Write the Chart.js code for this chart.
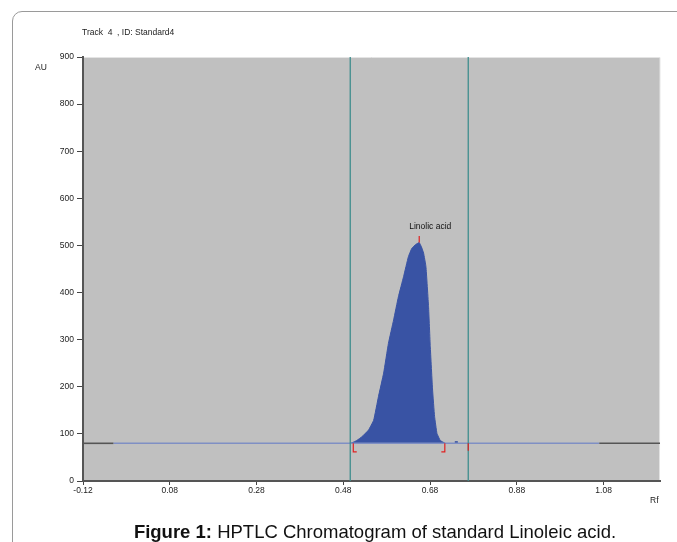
<!DOCTYPE html>
<html>
<head>
<meta charset="utf-8">
<script src="https://cdn.jsdelivr.net/npm/chart.js@4.4.0/dist/chart.umd.min.js"></script>
<style>
  body { margin: 0; background: #fff; }
  #wrap { position: relative; width: 677px; height: 542px; overflow: hidden; }
  #frame { position: absolute; left: 12px; top: 11px; width: 700px; height: 600px;
           border: 1.5px solid #9a9a9a; border-radius: 10px; }
  .lbl { position: absolute; font-family: Arial, "Liberation Sans", sans-serif; font-size: 8.5px; color: #222; }
  #caption { position: absolute; left: 0; width: 750px; top: 521px; text-align: center;
             font-family: Arial, "Liberation Sans", sans-serif; font-size: 18.5px; color: #111; }
  canvas { position: absolute; left: 0; top: 0; }
</style>
</head>
<body>
<div id="wrap">
  <div id="frame"></div>
  <canvas id="hptlc"></canvas>
  <div class="lbl" style="left:82px;top:27px;">Track &nbsp;4 &nbsp;, ID: Standard4</div>
  <div class="lbl" style="left:35px;top:62px;">AU</div>
  <div class="lbl" style="left:650px;top:495px;">Rf</div>
  <div id="caption"><b>Figure 1:</b> HPTLC Chromatogram of standard Linoleic acid.</div>
</div>
<script>
// tick positions on the Rf axis
var xTicks = [-0.12, 0.08, 0.28, 0.48, 0.68, 0.88, 1.08];

// baseline level (AU)
var baseAU = 80;

// peak profile
var peakRf = [0.495, 0.500, 0.511, 0.523, 0.538, 0.550, 0.561, 0.573, 0.584, 0.596, 0.607, 0.619,
    0.630, 0.638, 0.647, 0.655, 0.660, 0.665, 0.6705, 0.6765, 0.6805, 0.6858, 0.6904, 0.6959,
    0.7035, 0.715];
var peakAU = [80, 81, 86, 94, 108, 129, 179, 229, 292, 342, 391, 434,
    476, 494, 502, 506, 497, 484, 455, 370, 285, 193, 137, 101,
    86, 80];

// integration window (teal lines) and peak markers
var windowRf = [0.496, 0.768];
var peakStartRf = 0.503;
var peakEndRf = 0.714;
var peakTopRf = 0.655;
var peakTopAU = 506;
var peakName = 'Linolic acid';

// baseline segments: scan ends are dark, scanned part blue
var scanRf = [-0.05, 1.07];

var peakPoints = peakRf.map(function (r, i) { return { x: r, y: peakAU[i] }; });

function vline(rf, y0, y1) { return [{ x: rf, y: y0 }, { x: rf, y: y1 }]; }

var bgPlugin = {
    id: 'plotBg',
    beforeDraw: function (chart) {
        var a = chart.chartArea, c = chart.ctx;
        c.save();
        c.fillStyle = '#c0c0c0';
        c.fillRect(a.left, a.top, a.right - a.left, a.bottom - a.top);
        c.strokeStyle = '#e4e4e4';
        c.lineWidth = 1;
        c.beginPath();
        c.moveTo(a.left, a.top + 0.5);
        c.lineTo(a.right, a.top + 0.5);
        c.lineTo(a.right - 0.5, a.bottom);
        c.stroke();
        c.restore();
    },
    afterDatasetsDraw: function (chart) {
        var c = chart.ctx;
        var px = chart.scales.x.getPixelForValue(peakTopRf);
        var py = chart.scales.y.getPixelForValue(peakTopAU);
        c.save();
        c.font = '8.5px Arial, "Liberation Sans", sans-serif';
        c.fillStyle = '#111';
        c.textAlign = 'center';
        c.textBaseline = 'bottom';
        c.fillText(peakName, px + 11, py - 12);
        c.restore();
    }
};

var line = function (data, color, width, order) {
    return { data: data, borderColor: color, borderWidth: width, pointRadius: 0, fill: false, order: order };
};

var config = {
    type: 'line',
    data: {
        datasets: [
            line(vline(windowRf[0], 0, 900), '#3e8d8d', 1.3, 1),
            line(vline(windowRf[1], 0, 900), '#3e8d8d', 1.3, 1),
            line([{ x: -0.12, y: baseAU }, { x: scanRf[0], y: baseAU }], '#555555', 1.6, 3),
            line([{ x: scanRf[1], y: baseAU }, { x: 1.21, y: baseAU }], '#555555', 1.6, 3),
            line([{ x: scanRf[0], y: baseAU }, { x: scanRf[1], y: baseAU }], '#7f8fc4', 1.6, 3),
            {
                data: peakPoints,
                borderColor: '#3953a4',
                backgroundColor: '#3953a4',
                borderWidth: 1,
                pointRadius: 0,
                fill: { value: baseAU },
                tension: 0.1,
                order: 4
            },
            line([{ x: 0.737, y: 83 }, { x: 0.744, y: 83 }], '#3953a4', 1.5, 2),
            line([{ x: peakStartRf, y: baseAU }, { x: peakStartRf, y: 62 }, { x: peakStartRf + 0.008, y: 62 }], '#e02020', 1.2, 0),
            line([{ x: peakEndRf, y: baseAU }, { x: peakEndRf, y: 62 }, { x: peakEndRf - 0.008, y: 62 }], '#e02020', 1.2, 0),
            line(vline(windowRf[1], baseAU, 64), '#e02020', 1.2, 0),
            line(vline(peakTopRf, peakTopAU, peakTopAU + 14), '#e02020', 1.2, 0)
        ]
    },
    options: {
        responsive: true,
        maintainAspectRatio: false,
        animation: false,
        layout: { padding: { left: 0, top: 57, right: 17, bottom: 0 } },
        plugins: { legend: { display: false }, tooltip: { enabled: false } },
        scales: {
            x: {
                type: 'linear',
                min: -0.12,
                max: 1.21,
                afterBuildTicks: function (scale) {
                    scale.ticks = xTicks.map(function (v) { return { value: v }; });
                },
                afterFit: function (scale) { scale.height = 61; },
                ticks: {
                    autoSkip: false,
                    maxRotation: 0,
                    padding: 1,
                    color: '#222',
                    font: { family: 'Arial, "Liberation Sans", sans-serif', size: 8.5 },
                    callback: function (v) { return v.toFixed(2); }
                },
                grid: { drawOnChartArea: false, tickLength: 4, color: '#444' },
                border: { color: '#555', width: 2 }
            },
            y: {
                min: 0,
                max: 900,
                afterFit: function (scale) { scale.width = 83; },
                ticks: {
                    stepSize: 100,
                    padding: 3,
                    color: '#222',
                    font: { family: 'Arial, "Liberation Sans", sans-serif', size: 8.5 }
                },
                grid: { drawOnChartArea: false, tickLength: 6, color: '#444' },
                border: { color: '#555', width: 2 }
            }
        }
    },
    plugins: [bgPlugin]
};

var cv = document.getElementById('hptlc');
cv.style.width = '677px';
cv.style.height = '542px';
window.hptlcChart = new Chart(cv.getContext('2d'), config);
</script>
</body>
</html>
